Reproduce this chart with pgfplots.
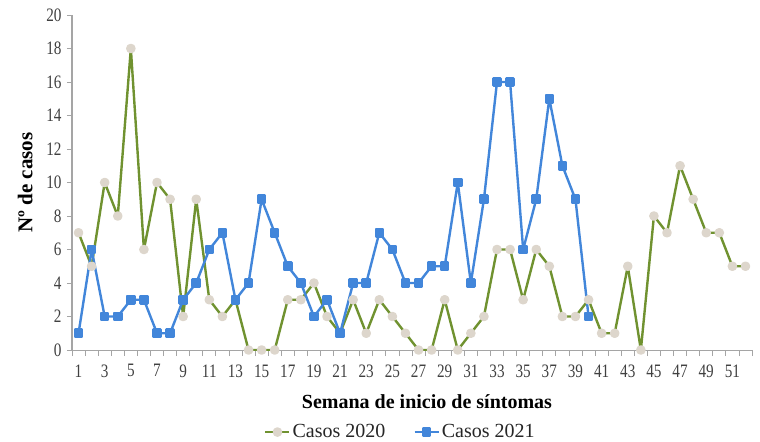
\documentclass[border=0pt]{standalone}
\usepackage{pgfplots}
\pgfplotsset{compat=1.18}
\usepackage{fontspec}
\setmainfont{Liberation Serif}
\newfontfamily\tickfont{Liberation Serif}[FakeStretch=0.8]
\definecolor{verde}{RGB}{112,146,48}
\definecolor{beige}{RGB}{221,214,204}
\definecolor{azul}{RGB}{66,134,218}
\definecolor{eje}{RGB}{165,165,165}
\begin{document}
\begin{tikzpicture}
\begin{axis}[
    scale only axis,
    width=680pt, height=335pt,
    xmin=0.5, xmax=52.5,
    ymin=0, ymax=20,
    xtick={1,3,...,51},
    minor xtick={0.5,1.5,...,52.5},
    ytick={0,2,...,20},
    axis x line*=bottom, axis y line*=left,
    axis line style={eje, line width=1pt, -},
    major x tick style={draw=none},
    minor x tick style={eje, line width=0.8pt},
    y tick style={eje, line width=0.8pt},
    tick align=outside,
    minor tick length=6pt, major tick length=5pt,
    /pgf/number format/assume math mode=true,
    ticklabel style={font=\tickfont\fontsize{19}{21}\selectfont, text=black!75},
    xticklabel style={yshift=-6pt},
    yticklabel style={xshift=-2pt},
    xlabel={\textbf{Semana de inicio de síntomas}},
    ylabel={\textbf{Nº de casos}},
    xlabel style={font=\fontsize{20}{22}\selectfont,
        at={(axis description cs:0.522,-0.155)}, anchor=center},
    ylabel style={font=\fontsize{21}{23}\selectfont,
        at={(axis description cs:-0.069,0.5)}, anchor=center},
    legend style={draw=none, at={(0.483,-0.245)}, anchor=center,
        legend columns=2, font=\fontsize{20}{22}\selectfont, text=black!85,
        /tikz/every even column/.append style={column sep=26pt}},
    legend image code/.code={
        \draw[#1] (0pt,0pt) -- (24pt,0pt);
        \draw[#1, only marks] plot coordinates {(12pt,0pt)};},
]
\coordinate (sw) at (rel axis cs:0,0);
\coordinate (ne) at (rel axis cs:1,1);
\addplot[verde, line width=2.4pt, line join=round, mark=*, mark size=3.6pt,
    mark options={fill=beige, draw=beige}] coordinates {
(1,7) (2,5) (3,10) (4,8) (5,18) (6,6) (7,10) (8,9) (9,2) (10,9)
(11,3) (12,2) (13,3) (14,0) (15,0) (16,0) (17,3) (18,3) (19,4) (20,2)
(21,1) (22,3) (23,1) (24,3) (25,2) (26,1) (27,0) (28,0) (29,3) (30,0)
(31,1) (32,2) (33,6) (34,6) (35,3) (36,6) (37,5) (38,2) (39,2) (40,3)
(41,1) (42,1) (43,5) (44,0) (45,8) (46,7) (47,11) (48,9) (49,7) (50,7)
(51,5) (52,5)};
\addlegendentry{Casos 2020}
\addplot[azul, line width=2.4pt, line join=round, mark=square*, mark size=3.6pt,
    mark options={fill=azul, draw=azul}] coordinates {
(1,1) (2,6) (3,2) (4,2) (5,3) (6,3) (7,1) (8,1) (9,3) (10,4)
(11,6) (12,7) (13,3) (14,4) (15,9) (16,7) (17,5) (18,4) (19,2) (20,3)
(21,1) (22,4) (23,4) (24,7) (25,6) (26,4) (27,4) (28,5) (29,5) (30,10)
(31,4) (32,9) (33,16) (34,16) (35,6) (36,9) (37,15) (38,11) (39,9) (40,2)};
\addlegendentry{Casos 2021}
\end{axis}
\pgfresetboundingbox
\path ([xshift=-72pt,yshift=-91pt]sw) rectangle ([xshift=8pt,yshift=15pt]ne);
\end{tikzpicture}
\end{document}
